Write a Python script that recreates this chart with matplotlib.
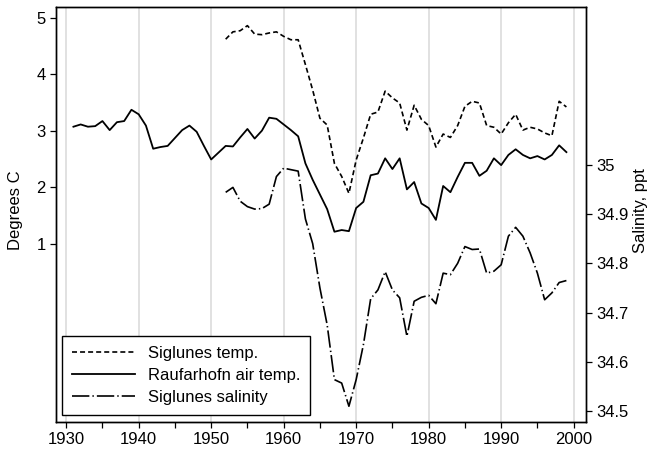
import numpy as np
import matplotlib
matplotlib.use("Agg")
import matplotlib.pyplot as plt
from matplotlib.ticker import MultipleLocator

plt.rcParams['font.family'] = ['Liberation Sans', 'DejaVu Sans']
plt.rcParams['font.size'] = 12
plt.rcParams['lines.scale_dashes'] = False

# Raufarhofn air temperature, 1931-1999
air_years = list(range(1931, 2000))
air_temp = [3.07, 3.11, 3.07, 3.08, 3.17, 3.01, 3.15, 3.17, 3.37, 3.29,
            3.09, 2.68, 2.71, 2.73, 2.87, 3.01, 3.09, 2.98, 2.73, 2.49,
            2.61, 2.73, 2.72, 2.88, 3.03, 2.86, 3.00, 3.23, 3.21, 3.11,
            3.01, 2.90, 2.42, 2.13, 1.87, 1.61, 1.21, 1.24, 1.22, 1.63,
            1.74, 2.21, 2.24, 2.51, 2.32, 2.51, 1.96, 2.09, 1.71, 1.63,
            1.42, 2.02, 1.91, 2.18, 2.43, 2.43, 2.20, 2.29, 2.51, 2.39,
            2.57, 2.67, 2.57, 2.51, 2.55, 2.49, 2.57, 2.74, 2.62]

# Siglunes sea temperature and salinity, 1952-1999
sig_years = list(range(1952, 2000))
sig_temp = [4.62, 4.75, 4.77, 4.86, 4.71, 4.70, 4.73, 4.75, 4.67, 4.61,
            4.61, 4.17, 3.72, 3.22, 3.10, 2.42, 2.19, 1.89, 2.48, 2.87,
            3.29, 3.33, 3.70, 3.58, 3.49, 3.01, 3.45, 3.20, 3.09, 2.71,
            2.94, 2.88, 3.09, 3.43, 3.52, 3.49, 3.09, 3.06, 2.94, 3.14,
            3.29, 3.01, 3.06, 3.03, 2.96, 2.91, 3.52, 3.42]
sig_sal = [34.944, 34.954, 34.926, 34.915, 34.910, 34.911, 34.920, 34.976,
           34.993, 34.990, 34.987, 34.890, 34.840, 34.750, 34.675, 34.564,
           34.557, 34.510, 34.564, 34.635, 34.728, 34.746, 34.783, 34.746,
           34.730, 34.652, 34.723, 34.731, 34.735, 34.718, 34.780, 34.777,
           34.800, 34.834, 34.828, 34.829, 34.780, 34.784, 34.797, 34.855,
           34.873, 34.855, 34.821, 34.780, 34.726, 34.740, 34.761, 34.765]

left_ticks = [1, 2, 3, 4, 5]
right_ticks = [34.5, 34.6, 34.7, 34.8, 34.9, 35.0]
right_labels = ['34.5', '34.6', '34.7', '34.8', '34.9', '35']

fig = plt.figure(figsize=(6.5, 4.49), dpi=100)
ax = fig.add_axes([0.0862, 0.0601, 0.8153, 0.9243])
ax2 = ax.twinx()

l1, = ax.plot(sig_years, sig_temp, color='black', lw=1.2, dashes=(3.6, 2.2),
              label='Siglunes temp.')
l2, = ax.plot(air_years, air_temp, color='black', lw=1.3,
              label='Raufarhofn air temp.')
l3, = ax2.plot(sig_years, sig_sal, color='black', lw=1.2,
               dashes=(12.5, 2.2, 1, 2.2), label='Siglunes salinity')

ax.set_xlim(1928.6, 2001.7)
ax.set_ylim(-2.16, 5.19)
ax2.set_ylim(34.478, 35.32)

ax.xaxis.set_major_locator(MultipleLocator(10))
ax.xaxis.set_minor_locator(MultipleLocator(5))
ax.set_yticks(left_ticks)
ax2.set_yticks(right_ticks)
ax2.set_yticklabels(right_labels)

ax.grid(axis='x', which='major', color='#dcdcdc', lw=1.2)
ax.set_axisbelow(True)

for a in (ax, ax2):
    for s in a.spines.values():
        s.set_linewidth(1.0)
ax.tick_params(axis='both', which='both', direction='out', length=4.3, width=0.9,
               pad=3)
ax2.tick_params(axis='y', direction='out', length=4.3, width=0.9, pad=3)

fig.text(16 / 650, 0.532, 'Degrees C', rotation=90, ha='center', va='center')
fig.text(648.5 / 650, 0.532, 'Salinity, ppt', rotation=90, ha='right', va='center')

leg = ax2.legend(handles=[l1, l2, l3], loc='lower left',
                 bbox_to_anchor=(0.0108, 0.0169), borderaxespad=0,
                 handlelength=3.8, handletextpad=0.78, labelspacing=0.42,
                 borderpad=0.6, fancybox=False, framealpha=1)
leg.get_frame().set_edgecolor('black')
leg.get_frame().set_linewidth(1.0)

fig.savefig('out.png', dpi=100)
